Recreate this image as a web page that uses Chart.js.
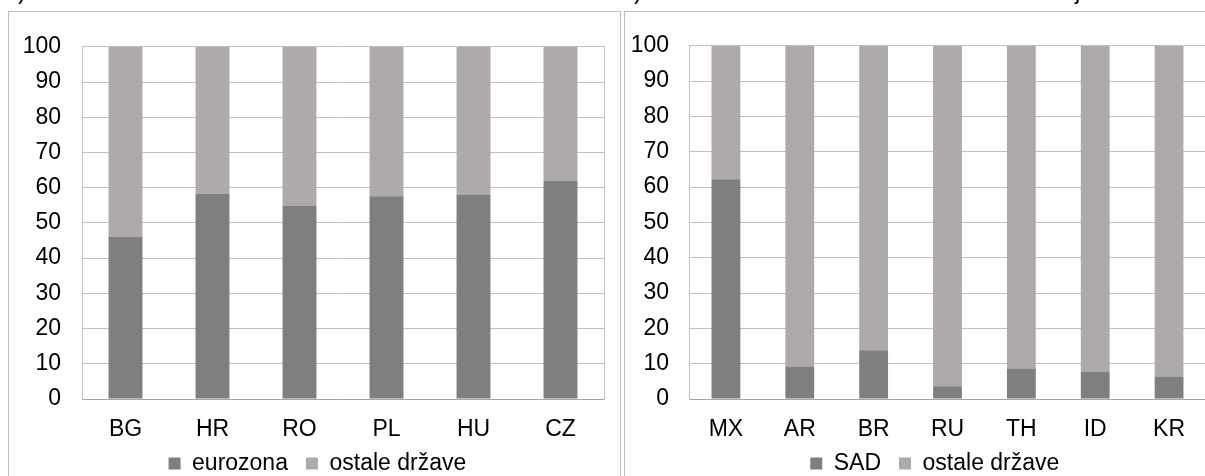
<!DOCTYPE html>
<html><head><meta charset="utf-8">
<script src="https://cdn.jsdelivr.net/npm/chart.js@4.4.0/dist/chart.umd.min.js"></script>
<style>
html,body{margin:0;padding:0;background:#fff;overflow:hidden;width:1205px;height:476px;}
#root{position:relative;width:1205px;height:476px;overflow:hidden;}
.panel{position:absolute;top:11px;height:500px;border:1px solid #bfbfbf;box-sizing:border-box;overflow:hidden;}
#p1{left:8px;width:613px} #p2{left:624px;width:640px}
.panel canvas{position:absolute;left:0;top:0;}
.frag{position:absolute;top:-20.5px;font:23px/23px "Liberation Sans",Arial,sans-serif;color:#000;white-space:pre;}
</style></head>
<body><div id="root">
<div class="frag" style="left:18px">)</div>
<div class="frag" style="left:634px">)</div>
<div class="frag" style="left:1075px">j</div>
<div class="panel" id="p1"><canvas id="c1" width="611" height="473" style="width:611px;height:473px"></canvas></div>
<div class="panel" id="p2"><canvas id="c2" width="620" height="473" style="width:620px;height:473px"></canvas></div>
</div>
<script>
// Left chart data
const leftCategories = ['BG','HR','RO','PL','HU','CZ'];
const leftEurozona = [46, 58.2, 54.8, 57.6, 57.9, 61.9];
const leftOstale = [54, 41.8, 45.2, 42.4, 42.1, 38.1];
const leftSeriesNames = ['eurozona','ostale države'];
// Right chart data
const rightCategories = ['MX','AR','BR','RU','TH','ID','KR'];
const rightSAD = [62.2, 9.2, 13.8, 3.6, 8.6, 7.8, 6.4];
const rightOstale = [37.8, 90.8, 86.2, 96.4, 91.4, 92.2, 93.6];
const rightSeriesNames = ['SAD','ostale države'];
const yTicks = [0,10,20,30,40,50,60,70,80,90,100];

const FONT = {family:'"Liberation Sans", Arial, sans-serif', size:23};
const DARK = '#7f7f7f', LIGHT = '#aeaaaa', GRID = '#c0c0c0';

function makeChart(id, cats, a, b, names, geo){
  return new Chart(document.getElementById(id), {
    type:'bar',
    data:{labels:cats, datasets:[
      {label:names[0], data:a, backgroundColor:DARK, borderWidth:0, categoryPercentage:1, barPercentage:0.39},
      {label:names[1], data:b, backgroundColor:LIGHT, borderWidth:0, categoryPercentage:1, barPercentage:0.39}
    ]},
    options:{
      responsive:false, animation:false, devicePixelRatio:1,
      layout:{padding:{left:geo.padL, right:geo.padR, top:geo.padT, bottom:0}},
      plugins:{
        tooltip:{enabled:false},
        legend:{position:'bottom', labels:{boxWidth:12, boxHeight:12, padding:18, font:FONT, color:'#000'}}
      },
      scales:{
        x:{stacked:true, grid:{display:false, drawTicks:false}, border:{display:true, color:'#a6a6a6', width:1},
           ticks:{font:FONT, color:'#000', mirror:true, padding:geo.xPad, maxRotation:0, autoSkip:false},
           afterFit(s){ s.height = geo.xH; }},
        y:{stacked:true, min:0, max:100,
           afterBuildTicks(s){ s.ticks = yTicks.map(v=>({value:v})); },
           grid:{color:GRID, drawTicks:false, lineWidth:1},
           border:{display:true, color:GRID, width:1},
           ticks:{font:FONT, color:'#000', padding:geo.yPad},
           afterFit(s){ s.width = geo.yW; }},
        yR:{position:'right', display:true, min:0, max:100, grid:{display:false, drawTicks:false},
           ticks:{display:false}, border:{display:true, color:GRID, width:1},
           afterFit(s){ s.width = geo.yRW; }}
      }
    }
  });
}

makeChart('c1', leftCategories, leftEurozona, leftOstale, leftSeriesNames,
  {padL:11, padR:5.2, padT:32.7, xPad:-44, xH:35, yPad:21, yW:62, yRW:10.8});
makeChart('c2', rightCategories, rightSAD, rightOstale, rightSeriesNames,
  {padL:2, padR:2.4, padT:30.5, xPad:-44, xH:35, yPad:20, yW:62, yRW:36.6});
</script>
</body></html>
